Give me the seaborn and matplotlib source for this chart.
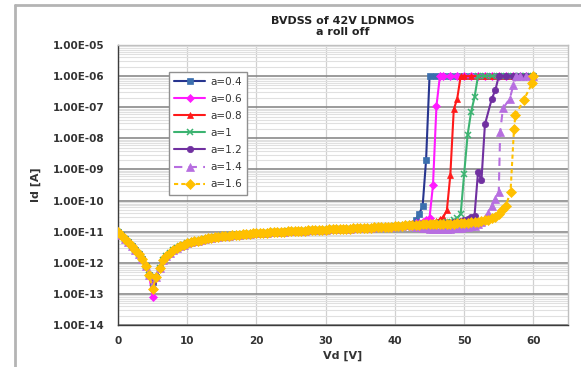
import matplotlib
matplotlib.use("Agg")
import matplotlib.pyplot as plt
from matplotlib.lines import Line2D
from matplotlib.ticker import LogLocator, MultipleLocator, FuncFormatter, NullFormatter
import seaborn as sns
import pandas as pd

# ---- data -------------------------------------------------------------
series_labels = ["a=0.4", "a=0.6", "a=0.8", "a=1", "a=1.2", "a=1.4", "a=1.6"]

# common off-state leakage, 0 V .. 42 V in 0.5 V steps (Id in A);
# the 5 V point (None) is taken per series from dip_id
leak_vd = [0, 0.5, 1, 1.5, 2, 2.5, 3, 3.5, 4, 4.5, 5, 5.5, 6, 6.5, 7, 7.5, 8, 8.5, 9, 9.5,
           10, 10.5, 11, 11.5, 12, 12.5, 13, 13.5, 14, 14.5, 15, 15.5, 16, 16.5, 17, 17.5,
           18, 18.5, 19, 19.5, 20, 20.5, 21, 21.5, 22, 22.5, 23, 23.5, 24, 24.5, 25, 25.5,
           26, 26.5, 27, 27.5, 28, 28.5, 29, 29.5, 30, 30.5, 31, 31.5, 32, 32.5, 33, 33.5,
           34, 34.5, 35, 35.5, 36, 36.5, 37, 37.5, 38, 38.5, 39, 39.5, 40, 40.5, 41, 41.5, 42]
leak_id = [1.0e-11, 7.6e-12, 5.8e-12, 4.5e-12, 3.4e-12, 2.6e-12, 1.9e-12, 1.3e-12, 8.0e-13,
           4.0e-13, None, 3.5e-13, 7.0e-13, 1.2e-12, 1.7e-12, 2.1e-12, 2.5e-12, 3.0e-12,
           3.4e-12, 3.8e-12, 4.2e-12, 4.6e-12, 4.9e-12, 5.2e-12, 5.5e-12, 5.8e-12, 6.1e-12,
           6.3e-12, 6.6e-12, 6.8e-12, 7.0e-12, 7.2e-12, 7.4e-12, 7.6e-12, 7.8e-12, 8.0e-12,
           8.2e-12, 8.4e-12, 8.6e-12, 8.8e-12, 9.0e-12, 9.1e-12, 9.3e-12, 9.4e-12, 9.6e-12,
           9.7e-12, 9.9e-12, 1.00e-11, 1.01e-11, 1.03e-11, 1.04e-11, 1.05e-11, 1.07e-11,
           1.08e-11, 1.09e-11, 1.10e-11, 1.12e-11, 1.13e-11, 1.14e-11, 1.15e-11, 1.17e-11,
           1.18e-11, 1.19e-11, 1.21e-11, 1.22e-11, 1.23e-11, 1.25e-11, 1.26e-11, 1.28e-11,
           1.29e-11, 1.31e-11, 1.32e-11, 1.34e-11, 1.35e-11, 1.37e-11, 1.38e-11, 1.40e-11,
           1.42e-11, 1.44e-11, 1.46e-11, 1.49e-11, 1.52e-11, 1.56e-11, 1.60e-11, 1.66e-11]
dip_id = [2.5e-13, 8.0e-14, 2.0e-13, 2.2e-13, 2.5e-13, 1.8e-13, 1.4e-13]

# breakdown part of each sweep from 42.5 V (clamped at the 1 uA compliance)
tail_vd = [
    [42.5, 43, 43.5, 44, 44.5, 45, 46, 47, 48, 49, 50, 51, 52, 53, 54, 55, 56, 57, 58, 59, 60],
    [42.5, 43, 43.5, 44, 44.5, 45, 45.5, 46, 46.5, 47, 48, 49, 50, 51, 52, 53, 54, 55, 56, 57,
     58, 59, 60],
    [42.5, 43, 43.5, 44, 44.5, 45, 45.5, 46, 46.5, 47, 47.5, 48, 48.5, 49, 49.5, 50, 51, 52, 53,
     54, 55, 56, 57, 58, 59, 60],
    [42.5, 43, 43.5, 44, 44.5, 45, 45.5, 46, 46.5, 47, 47.5, 48, 48.5, 49, 49.5, 50, 50.5, 51,
     51.5, 52, 53, 54, 55, 56, 57, 58, 59, 60],
    [42.5, 43, 43.5, 44, 44.5, 45, 45.5, 46, 46.5, 47, 47.5, 48, 48.5, 49, 49.5, 50, 50.5, 51,
     51.5, 52, 52.5, 53, 54, 54.5, 55, 56, 57, 58, 59, 60],
    [42.5, 43, 43.5, 44, 44.5, 45, 45.5, 46, 46.5, 47, 47.5, 48, 48.5, 49, 49.5, 50, 50.5, 51,
     51.5, 52, 52.5, 53, 53.5, 54, 54.5, 55, 55.2, 55.6, 56.6, 57.1, 57.5, 58, 59, 60],
    [42.5, 43, 43.5, 44, 44.5, 45, 45.5, 46, 46.5, 47, 47.5, 48, 48.5, 49, 49.5, 50, 50.5, 51,
     51.5, 52, 52.5, 53, 53.5, 54, 54.5, 55, 55.5, 56, 56.7, 57.2, 57.4, 58.6, 59.8, 60],
]
tail_id = [
    [1.8e-11, 2.4e-11, 3.8e-11, 6.5e-11, 2.0e-9, 1e-6, 1e-6, 1e-6, 1e-6, 1e-6, 1e-6, 1e-6,
     1e-6, 1e-6, 1e-6, 1e-6, 1e-6, 1e-6, 1e-6, 1e-6, 1e-6],
    [1.75e-11, 1.85e-11, 1.95e-11, 2.1e-11, 2.3e-11, 2.8e-11, 3.2e-10, 1.1e-7, 1e-6, 1e-6,
     1e-6, 1e-6, 1e-6, 1e-6, 1e-6, 1e-6, 1e-6, 1e-6, 1e-6, 1e-6, 1e-6, 1e-6, 1e-6],
    [1.72e-11, 1.75e-11, 1.78e-11, 1.8e-11, 1.85e-11, 1.9e-11, 2.0e-11, 2.2e-11, 2.5e-11,
     3.0e-11, 4.8e-11, 6.5e-10, 8.5e-8, 1.9e-7, 1e-6, 1e-6, 1e-6, 1e-6, 1e-6, 1e-6, 1e-6,
     1e-6, 1e-6, 1e-6, 1e-6, 1e-6],
    [1.7e-11, 1.72e-11, 1.74e-11, 1.76e-11, 1.78e-11, 1.8e-11, 1.83e-11, 1.86e-11, 1.9e-11,
     1.95e-11, 2.0e-11, 2.1e-11, 2.3e-11, 2.7e-11, 3.7e-11, 7.2e-10, 1.3e-8, 7.0e-8, 2.1e-7,
     1e-6, 1e-6, 1e-6, 1e-6, 1e-6, 1e-6, 1e-6, 1e-6, 1e-6],
    [1.7e-11, 1.71e-11, 1.72e-11, 1.74e-11, 1.76e-11, 1.78e-11, 1.8e-11, 1.82e-11, 1.84e-11,
     1.87e-11, 1.9e-11, 1.95e-11, 2.0e-11, 2.1e-11, 2.2e-11, 2.35e-11, 2.6e-11, 2.9e-11,
     3.3e-11, 8.1e-10, 4.5e-10, 2.8e-8, 1.9e-7, 3.5e-7, 1e-6, 1e-6, 1e-6, 1e-6, 1e-6, 1e-6],
    [1.55e-11, 1.45e-11, 1.38e-11, 1.32e-11, 1.28e-11, 1.25e-11, 1.23e-11, 1.22e-11,
     1.22e-11, 1.22e-11, 1.23e-11, 1.25e-11, 1.27e-11, 1.3e-11, 1.33e-11, 1.37e-11,
     1.42e-11, 1.48e-11, 1.57e-11, 1.7e-11, 2.0e-11, 2.7e-11, 4.0e-11, 6.9e-11, 1.1e-10,
     1.9e-10, 1.6e-8, 9.1e-8, 1.9e-7, 5.1e-7, 1e-6, 1e-6, 1e-6, 1e-6],
    [1.67e-11, 1.68e-11, 1.69e-11, 1.7e-11, 1.71e-11, 1.72e-11, 1.73e-11, 1.74e-11, 1.75e-11,
     1.77e-11, 1.79e-11, 1.81e-11, 1.83e-11, 1.86e-11, 1.89e-11, 1.92e-11, 1.96e-11,
     2.0e-11, 2.05e-11, 2.1e-11, 2.2e-11, 2.3e-11, 2.45e-11, 2.65e-11, 3.0e-11, 3.8e-11,
     4.8e-11, 6.5e-11, 1.95e-10, 2.0e-8, 5.5e-8, 1.7e-7, 5.8e-7, 1e-6],
]

y_tick_values = [1e-14, 1e-13, 1e-12, 1e-11, 1e-10, 1e-9, 1e-8, 1e-7, 1e-6, 1e-5]
x_tick_values = [0, 10, 20, 30, 40, 50, 60]

# ---- styling ----------------------------------------------------------
line_colors = ["#27358f", "#ff1aff", "#ff1a1a", "#3cb371", "#7030a0", "#b76ee0", "#ffc000"]
marker_faces = ["#3b6fae", "#ff1aff", "#ff1a1a", "#3cb371", "#7030a0", "#b76ee0", "#ffc000"]
markers = ["s", "D", "^", "x", "o", "^", "D"]
marker_sizes = [4.8, 3.8, 5.0, 5.0, 4.6, 5.4, 4.8]
dashes = ["-", "-", "-", "-", "-", (0, (4, 3)), (0, (2, 1.5))]

sns.set_style("white")
plt.rcParams["font.family"] = ["DejaVu Sans"]

fig = plt.figure(figsize=(5.81, 3.67), dpi=100)
ax = fig.add_axes([118 / 581, 1 - 325 / 367, 450 / 581, 280 / 367])

for i, label in enumerate(series_labels):
    vd = list(leak_vd) + tail_vd[i]
    idv = [dip_id[i] if v is None else v for v in leak_id] + tail_id[i]
    df = pd.DataFrame({"Vd": vd, "Id": idv})
    sns.lineplot(data=df, x="Vd", y="Id", ax=ax, estimator=None, sort=False,
                 color=line_colors[i], linestyle=dashes[i], linewidth=1.5,
                 marker=markers[i], markersize=marker_sizes[i],
                 markerfacecolor=marker_faces[i], markeredgecolor=marker_faces[i],
                 markeredgewidth=1.1 if markers[i] == "x" else 0.5,
                 label=label, zorder=3 + i)

ax.set_yscale("log")
ax.set_xlim(0, 65)
ax.set_ylim(1e-14, 1e-5)
ax.set_yticks(y_tick_values)
ax.yaxis.set_major_formatter(FuncFormatter(lambda v, p: f"{v:.2E}"))
ax.yaxis.set_minor_locator(LogLocator(base=10, subs=range(2, 10), numticks=50))
ax.yaxis.set_minor_formatter(NullFormatter())
ax.set_xticks(x_tick_values)
ax.xaxis.set_minor_locator(MultipleLocator(2))

ax.set_axisbelow(True)
ax.yaxis.grid(True, which="major", color="#8a8a8a", linewidth=1.2)
ax.yaxis.grid(True, which="minor", color="#e0e0e0", linewidth=0.8)
ax.xaxis.grid(True, which="major", color="#d0d0d0", linewidth=0.9)
ax.xaxis.grid(False, which="minor")

for side in ("left", "bottom"):
    ax.spines[side].set_color("#3c3c3c")
    ax.spines[side].set_linewidth(1.0)
for side in ("top", "right"):
    ax.spines[side].set_color("#c0c0c0")
    ax.spines[side].set_linewidth(1.0)

ax.tick_params(axis="both", which="both", direction="in", colors="#3c3c3c",
               labelcolor="#333333", labelsize=7.5)
ax.tick_params(axis="both", which="major", length=4, width=0.8)
ax.tick_params(axis="both", which="minor", length=2.5, width=0.6)
ax.tick_params(axis="y", pad=10)
ax.tick_params(axis="x", pad=8)
ax.tick_params(top=False, right=False, which="both")
for lbl in ax.get_xticklabels() + ax.get_yticklabels():
    lbl.set_fontweight("bold")

ax.set_xlabel("Vd [V]", fontsize=8, fontweight="bold", color="#333333", labelpad=3)
ax.set_ylabel("Id [A]", fontsize=8, fontweight="bold", color="#333333", labelpad=8)
ax.set_title("BVDSS of 42V LDNMOS\na roll off", fontsize=8, fontweight="bold",
             color="#222222", pad=7)

leg = ax.legend(loc="upper left", bbox_to_anchor=(0.113, 0.905), fontsize=7.5,
                frameon=True, fancybox=False, edgecolor="#909090", framealpha=1,
                handlelength=3.0, handletextpad=0.5, labelspacing=0.68,
                borderpad=0.5, borderaxespad=0)
leg.get_frame().set_linewidth(1.0)
for t in leg.get_texts():
    t.set_color("#333333")

# outer chart-area frame
fx = 15 / 581
fy = 1 - 5 / 367
fig.add_artist(Line2D([fx, fx], [0, fy], color="#b4b4b4", linewidth=2))
fig.add_artist(Line2D([fx, 1], [fy, fy], color="#b4b4b4", linewidth=2))

fig.savefig("out.png", dpi=100)
